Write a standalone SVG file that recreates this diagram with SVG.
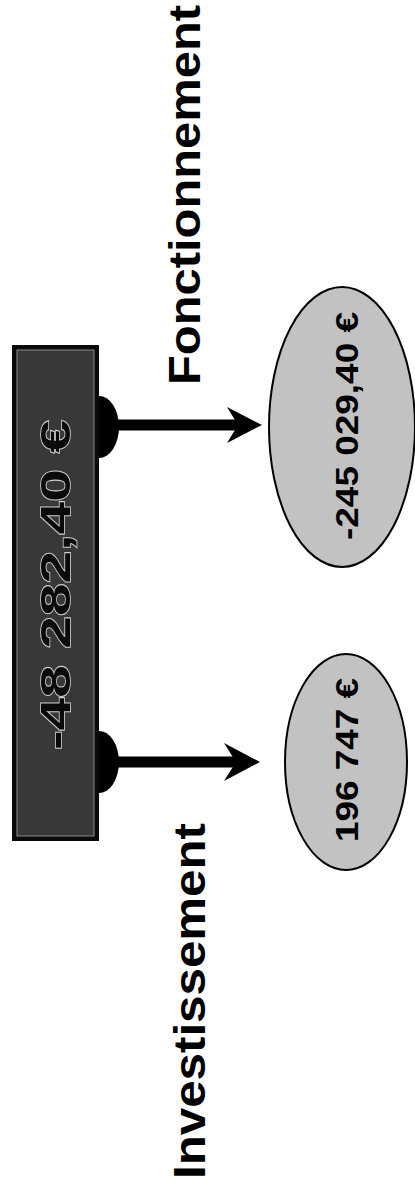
<svg xmlns="http://www.w3.org/2000/svg" width="415" height="1190" viewBox="0 0 415 1190">
  <style>
    .lbl { font-family: "Liberation Sans", Arial, sans-serif; font-weight: bold; fill: #000; text-anchor: middle; }
    .big { font-size: 44px; }
    .val { font-size: 31px; }
    .main { font-family: "Liberation Sans", Arial, sans-serif; font-weight: bold; font-size: 43px; fill: #0a0a0a; stroke: #d0d0d0; stroke-width: 1.6; paint-order: stroke; text-anchor: middle; }
    .oval { fill: #c2c2c2; stroke: #000; stroke-width: 2; }
    .conn { fill: #000; stroke: none; }
  </style>
  <rect width="415" height="1190" fill="#fff"/>

  <g id="connectors">
    <path class="conn" d="M99,396 A20,31 0 0 1 99,458 Z"/>
    <rect class="conn" x="99" y="419.5" width="141" height="11"/>
    <polygon class="conn" points="262,425 227,407 238,425 227,443"/>
    <path class="conn" d="M99,731 A20,31 0 0 1 99,793 Z"/>
    <rect class="conn" x="99" y="756.5" width="139" height="11"/>
    <polygon class="conn" points="260,762 224,743 236,762 224,781"/>
  </g>

  <g id="total">
    <rect x="12" y="345" width="87" height="496" fill="#0a0a0a"/>
    <rect x="17" y="350" width="77" height="486" fill="#383838" stroke="#8a8a8a" stroke-width="1"/>
    <text class="main" transform="translate(70,585) rotate(-90)" x="0" y="0" textLength="330" lengthAdjust="spacingAndGlyphs">-48 282,40 €</text>
  </g>

  <g id="fonctionnement">
    <ellipse class="oval" cx="342" cy="427" rx="73" ry="140"/>
    <text class="lbl val" transform="translate(358,426) rotate(-90)" x="0" y="0" textLength="228" lengthAdjust="spacingAndGlyphs">-245 029,40 €</text>
  </g>

  <g id="investissement">
    <ellipse class="oval" cx="346" cy="762" rx="61" ry="108"/>
    <text class="lbl val" transform="translate(358,760) rotate(-90)" x="0" y="0" textLength="164" lengthAdjust="spacingAndGlyphs">196 747 €</text>
  </g>

  <g id="label-fonctionnement">
    <text class="lbl big" transform="translate(200,195) rotate(-90)" x="0" y="0" textLength="380" lengthAdjust="spacingAndGlyphs">Fonctionnement</text>
  </g>

  <g id="label-investissement">
    <text class="lbl big" transform="translate(205,1001) rotate(-90)" x="0" y="0" textLength="356" lengthAdjust="spacingAndGlyphs">Investissement</text>
  </g>
</svg>
